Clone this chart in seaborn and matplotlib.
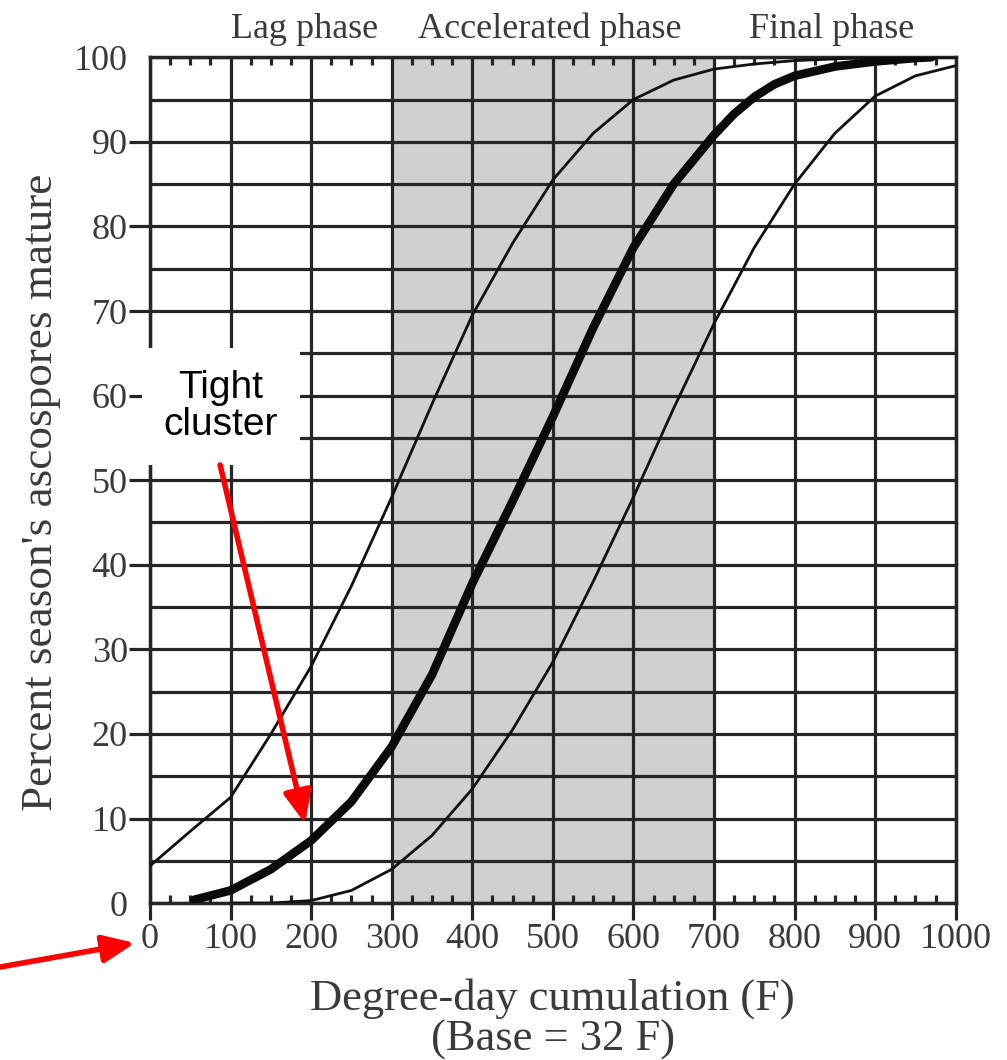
import matplotlib
matplotlib.use("Agg")
import matplotlib.pyplot as plt
import pandas as pd
import seaborn as sns

# ---- data ----
upper_dd = [0, 50, 100, 150, 200, 250, 300, 350, 400, 450, 500, 550, 600, 650, 700, 750, 800, 850, 900, 950, 1000]
upper_pct = [4.4, 8.5, 12.5, 20, 28, 37.5, 48, 59, 69.5, 78, 85.5, 91, 95, 97.3, 98.6, 99.2, 99.6, 99.8, 100, 100, 100]

mid_dd = [55, 100, 150, 200, 250, 300, 350, 400, 450, 500, 550, 600, 650, 700, 725, 750, 775, 800, 850, 900, 950, 970]
mid_pct = [0.4, 1.5, 4, 7.4, 12, 18.5, 27, 37.8, 47.5, 57.5, 68, 77.5, 85, 90.8, 93.3, 95.3, 96.8, 97.8, 98.9, 99.5, 99.9, 100]

lower_dd = [100, 150, 200, 250, 300, 350, 400, 450, 500, 550, 600, 650, 700, 750, 800, 850, 900, 950, 1000]
lower_pct = [0, 0, 0.3, 1.5, 4, 8, 13.5, 20.5, 28.5, 38, 48, 58.5, 68.5, 77.5, 85, 91, 95.4, 97.8, 99]

phase_names = ["Lag phase", "Accelerated phase", "Final phase"]
phase_centers = [192, 496, 846]
accel_start, accel_end = 300, 700

x_ticks = list(range(0, 1001, 100))
y_ticks = list(range(0, 101, 10))

annot_text = "Tight\ncluster"
annot_tip = (192.5, 9.4)

# ---- style ----
sns.set_theme(style="white")
plt.rcParams['font.family'] = ['Liberation Serif', 'DejaVu Serif']
txt_col = '#3a3a3a'
grid_col = '#262626'

fig = plt.figure(figsize=(10.07, 10.60), dpi=100)
ax = fig.add_axes([0.149, 0.148, 0.800, 0.798])

ax.axvspan(accel_start, accel_end, color='#d0d0d0', zorder=0.2, lw=0)

df_u = pd.DataFrame({"dd": upper_dd, "pct": upper_pct})
df_m = pd.DataFrame({"dd": mid_dd, "pct": mid_pct})
df_l = pd.DataFrame({"dd": lower_dd, "pct": lower_pct})
sns.lineplot(data=df_u, x="dd", y="pct", ax=ax, color='#111111', lw=2.0, zorder=3)
sns.lineplot(data=df_m, x="dd", y="pct", ax=ax, color='#0a0a0a', lw=6.2, zorder=4,
             solid_capstyle='round')
sns.lineplot(data=df_l, x="dd", y="pct", ax=ax, color='#111111', lw=2.0, zorder=3)

ax.set_xlim(0, 1000)
ax.set_ylim(0, 100)
ax.set_xticks(x_ticks)
ax.set_xticks(list(range(0, 1001, 25)), minor=True)
ax.set_yticks(y_ticks)
ax.set_yticks(list(range(0, 101, 5)), minor=True)
ax.set_xticklabels([str(v) for v in x_ticks])
ax.set_yticklabels([str(v) for v in y_ticks])

ax.set_axisbelow(True)
ax.xaxis.grid(True, which='major', color=grid_col, lw=2.3)
ax.yaxis.grid(True, which='both', color=grid_col, lw=2.3)

for s in ax.spines.values():
    s.set_color(grid_col)
    s.set_linewidth(2.5)

ax.tick_params(axis='x', which='major', direction='out', bottom=True, length=12, width=2.3,
               color=grid_col, labelsize=26, labelcolor=txt_col, pad=2)
ax.tick_params(axis='x', which='minor', direction='in', bottom=True, top=True, length=6, width=2.3,
               color=grid_col)
ax.tick_params(axis='y', which='major', direction='out', left=True, length=15, width=2.3,
               color=grid_col, labelsize=26, labelcolor=txt_col, pad=1)
ax.tick_params(axis='y', which='minor', length=0)
ymaj = ax.yaxis.get_major_ticks()
ymaj[0].tick1line.set_visible(False)
ymaj[-1].tick1line.set_visible(False)

ax.set_xlabel("Degree-day cumulation (F)\n(Base = 32 F)", fontsize=32, color=txt_col, linespacing=1.0)
ax.xaxis.set_label_coords(0.5, -0.089)
ax.set_ylabel("Percent season's ascospores mature", fontsize=32.5, color=txt_col)
ax.yaxis.set_label_coords(-0.110, 0.486)

for name, cx in zip(phase_names, phase_centers):
    ax.text(cx, 102.3, name, ha='center', va='baseline', fontsize=26, color=txt_col, clip_on=False)

# annotation box + arrows
ax.text(88.2, 58.7, annot_text, ha='center', va='center', fontsize=28, color='black',
        family=['Liberation Sans', 'DejaVu Sans'], linespacing=1.05, zorder=6,
        bbox=dict(boxstyle='square,pad=0.55', fc='white', ec='none'))
ax.annotate("", xy=annot_tip, xytext=(87, 51.8),
            arrowprops=dict(arrowstyle='-|>,head_length=0.88,head_width=0.38', color='red',
                            lw=4, mutation_scale=22, shrinkA=0, shrinkB=0), zorder=7)
ax.annotate("", xy=(0.134, 0.1104), xycoords='figure fraction', xytext=(-0.01, 0.086),
            textcoords='figure fraction', annotation_clip=False,
            arrowprops=dict(arrowstyle='-|>,head_length=0.88,head_width=0.38', color='red',
                            lw=4, mutation_scale=22, shrinkA=0, shrinkB=0))

fig.savefig("out.png", dpi=100)
